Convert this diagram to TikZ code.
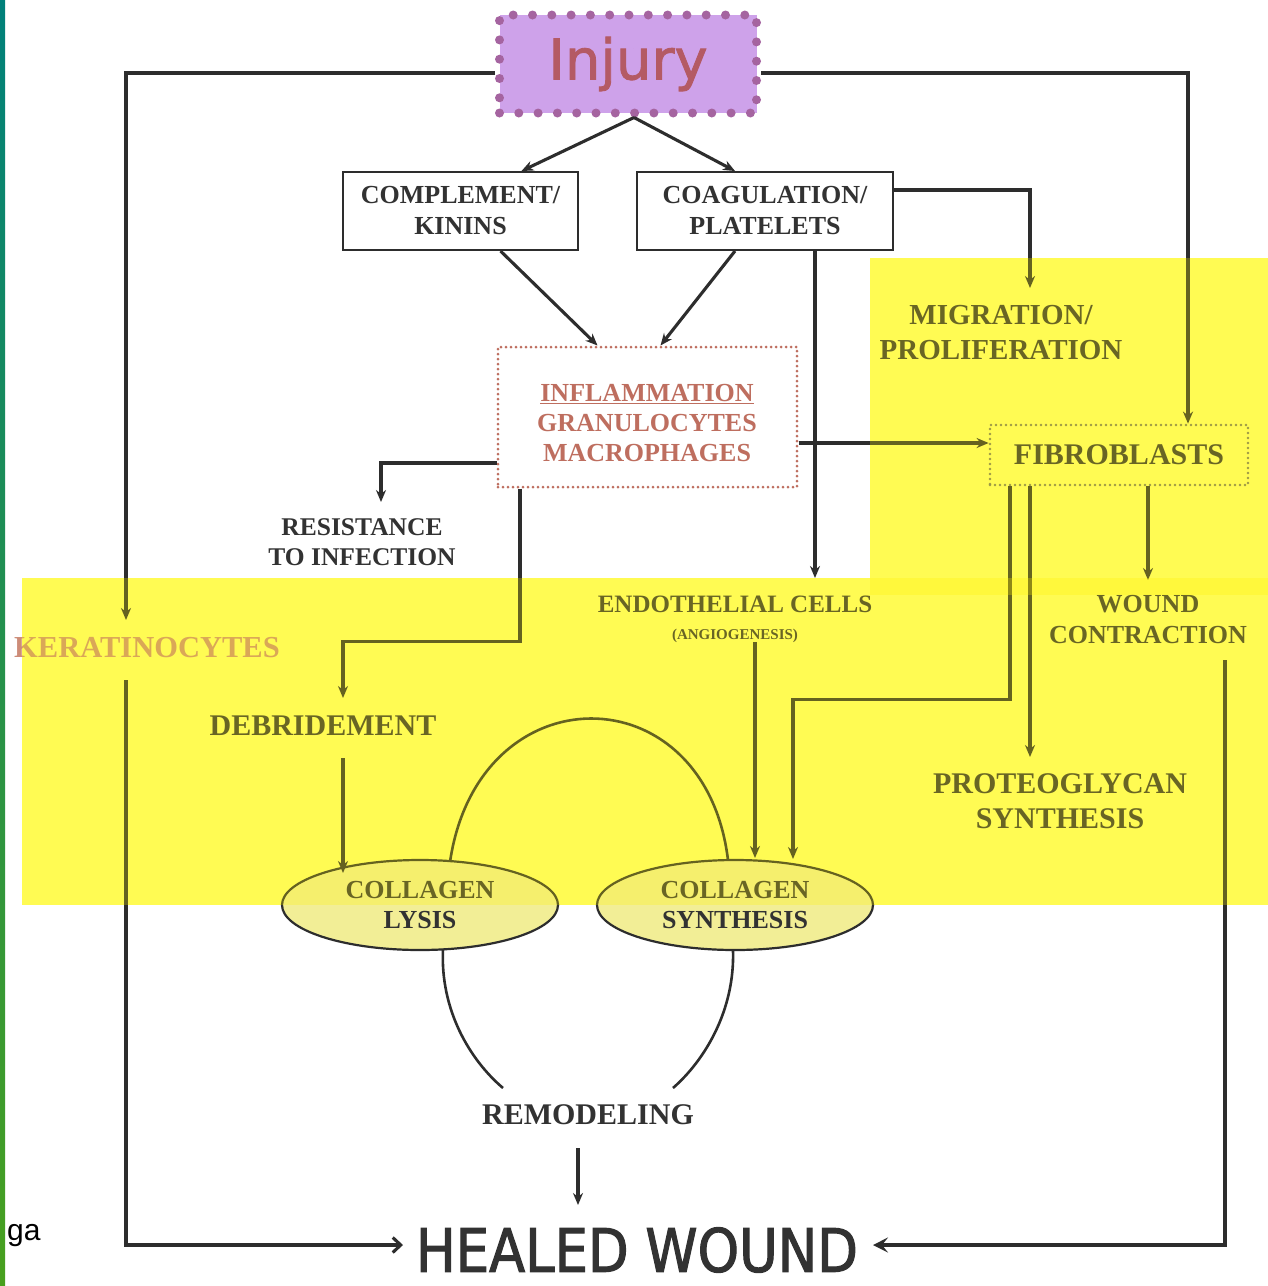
\documentclass[tikz,border=0pt]{standalone}
\usepackage{fontspec}
\setmainfont{Liberation Serif}
\newfontfamily\handfont{DejaVu Sans}[FakeBold=1.5]
\newfontfamily\handfontc{DejaVu Sans}[FakeStretch=0.88,FakeBold=1.8]
\newfontfamily\gafont{Liberation Sans}
\usetikzlibrary{arrows.meta,calc,shapes.geometric}
\definecolor{linecol}{RGB}{45,45,45}
\definecolor{txtcol}{RGB}{50,50,50}
\definecolor{inflcol}{RGB}{190,110,95}
\definecolor{injfill}{RGB}{206,162,234}
\definecolor{injdot}{RGB}{165,100,160}
\definecolor{injtext}{RGB}{180,90,100}
\definecolor{keracol}{RGB}{205,140,120}
\definecolor{ellfill}{RGB}{242,238,150}
\definecolor{ybase}{RGB}{255,255,115}
\definecolor{fibdot}{RGB}{120,120,95}
\definecolor{barTop}{RGB}{0,128,122}
\definecolor{barBot}{RGB}{72,160,30}
\begin{document}
\begin{tikzpicture}[x=1pt,y=-1pt,
  lbl/.style={font=\fontsize{26}{31}\selectfont\bfseries, text=txtcol, align=center, inner sep=0pt},
  lblbig/.style={font=\fontsize{29}{35}\selectfont\bfseries, text=txtcol, align=center, inner sep=0pt},
  plainbox/.style={draw=linecol, line width=2pt, fill=white, minimum width=#1, minimum height=78pt, inner sep=0pt, align=center, font=\fontsize{26}{31}\selectfont\bfseries, text=txtcol},
  conn/.style={draw=linecol, line width=3.1pt},
  arr/.style={conn, -{Stealth[length=12pt,width=10pt]}},
  ell/.style={ellipse, draw=linecol, line width=2.2pt, fill=ellfill, minimum width=276pt, minimum height=90pt, inner sep=0pt, align=center, font=\fontsize{26}{30}\selectfont\bfseries, text=txtcol},
  hl/.style={fill=yellow, opacity=0.27}
]
\useasboundingbox (0,0) rectangle (1268,1286);
\fill[white] (0,0) rectangle (1268,1286);
% yellow highlight base
\fill[ybase] (870,258) rectangle (1268,595);
\fill[ybase] (22,578) rectangle (1268,905);

% nodes
\node[rectangle, fill=injfill, draw=injdot, line width=9pt, line cap=round, dash pattern=on 0pt off 19.3pt, minimum width=257pt, minimum height=98pt, inner sep=0pt] (injury) at (628,64) {};
\node[font=\handfont\fontsize{56}{60}\selectfont, text=injtext, inner sep=0pt] (injtxt) at (628,64) {Injury};

\node[plainbox=235pt] (comp) at (460.5,211) {COMPLEMENT/\\KININS};
\node[plainbox=256pt] (coag) at (765,211) {COAGULATION/\\PLATELETS};

\node[rectangle, draw=inflcol, fill=white, line width=3pt, line cap=round, dash pattern=on 0pt off 5pt, minimum width=299pt, minimum height=140pt, inner sep=0pt] (infl) at (647.5,417) {};
\node[lbl, text=inflcol, font=\fontsize{26}{30}\selectfont\bfseries] (infltxt) at (647,423) {\underline{INFLAMMATION}\\GRANULOCYTES\\MACROPHAGES};

\node[lblbig] (migr) at (1001,333) {MIGRATION/\\PROLIFERATION};
\node[rectangle, draw=fibdot, line width=2.8pt, line cap=round, dash pattern=on 0pt off 5pt, minimum width=258pt, minimum height=60pt, inner sep=0pt, font=\fontsize{30}{34}\selectfont\bfseries, text=txtcol] (fib) at (1119,455) {FIBROBLASTS};

\node[lbl, font=\fontsize{25.5}{30}\selectfont\bfseries] (resist) at (362,542) {RESISTANCE\\TO INFECTION};
\node[lbl, font=\fontsize{30.5}{34}\selectfont\bfseries, text=keracol] (kera) at (147,648) {KERATINOCYTES};
\node[lbl, font=\fontsize{30}{34}\selectfont\bfseries] (debr) at (323,726) {DEBRIDEMENT};
\node[lbl] (endo) at (735,619) {{\fontsize{25}{28}\selectfont ENDOTHELIAL CELLS}\\[-4pt]{\fontsize{15}{18}\selectfont (ANGIOGENESIS)}};
\node[lbl] (wound) at (1148,620) {WOUND\\CONTRACTION};
\node[lbl, font=\fontsize{30}{35}\selectfont\bfseries] (proteo) at (1060,801) {PROTEOGLYCAN\\SYNTHESIS};

\node[ell] (lysis) at (420,905) {COLLAGEN\\LYSIS};
\node[ell] (synth) at (735,905) {COLLAGEN\\SYNTHESIS};

\node[lbl, font=\fontsize{30}{34}\selectfont\bfseries] (remod) at (588,1115) {REMODELING};
\node[font=\handfontc\fontsize{60}{64}\selectfont, text=txtcol, inner sep=0pt] (healed) at (637,1250) {HEALED WOUND};

% connectors
\draw[arr] ($(injury.west)+(0,9)$) -| ($(kera.center)+(-21,-28)$);
\draw[arr] ($(injury.east)+(0,9)$) -| ($(fib.north)+(69,0)$);
\draw[arr] ($(injury.south)+(6,0)$) -- ($(comp.north)+(61,0)$);
\draw[arr] ($(injury.south)+(6,0)$) -- ($(coag.north)+(-30,0)$);
\draw[arr] ($(comp.south)+(40,0)$) -- ($(infl.north)+(-50,0)$);
\draw[arr] ($(coag.south)+(-30,0)$) -- ($(infl.north)+(13,0)$);
\draw[arr] ($(coag.east)+(0,-21)$) -| ($(migr.center)+(29,-45)$);
\draw[arr] ($(coag.south)+(50,0)$) -- ($(endo.center)+(80,-41)$);
\draw[arr] ($(infl.east)+(0,26)$) -- ($(fib.west)+(0,-12)$);
\draw[arr] ($(infl.west)+(0,46)$) -| ($(resist.center)+(19,-40)$);
\draw[arr] ($(infl.south)+(-127.5,0)$) -- ++(0,153) -| ($(debr.center)+(20,-28)$);
\draw[arr] ($(debr.center)+(20,32)$) -- ($(lysis.center)+(-77,-32)$);
\draw[conn, -{Straight Barb[length=8pt,width=15pt]}] ($(kera.center)+(-21,32)$) |- ($(healed.center)+(-234,-5)$);
\draw[arr] ($(endo.center)+(20,23)$) -- ($(synth.center)+(20,-47)$);
\draw[arr] ($(fib.south)+(-109,0)$) -- ++(0,213) -| ($(synth.center)+(58,-46)$);
\draw[arr] ($(fib.south)+(-89,0)$) -- ($(proteo.center)+(-30,-44)$);
\draw[arr] ($(fib.south)+(29,0)$) -- ($(wound.center)+(0,-40)$);
\draw[conn, -{Stealth[length=15pt,width=15pt,inset=6pt]}] ($(wound.center)+(77,40)$) |- ($(healed.center)+(236,-5)$);
\draw[arr] ($(remod.center)+(-10,33)$) -- ($(healed.center)+(-59,-45)$);
% collagen cycle
\draw[conn, line width=2.6pt] ($(lysis.center)+(30,-43)$) .. controls ($(lysis.center)+(58,-234)$) and ($(synth.center)+(-30,-234)$) .. ($(synth.center)+(-7,-45)$);
\draw[conn, line width=2.6pt] ($(lysis.center)+(23,44)$) .. controls ($(lysis.center)+(20,105)$) and ($(lysis.center)+(50,155)$) .. ($(remod.center)+(-85,-27)$);
\draw[conn, line width=2.6pt] ($(synth.center)+(-2,45)$) .. controls ($(synth.center)+(0,105)$) and ($(synth.center)+(-30,155)$) .. ($(remod.center)+(85,-27)$);

% yellow tint overlay
\fill[hl] (870,258) rectangle (1268,595);
\fill[hl] (22,578) rectangle (1268,905);

% side text and bar
\node[font=\gafont\fontsize{30}{34}\selectfont, text=black, anchor=base west, inner sep=0pt] (ga) at (7,1240) {ga};
\shade[top color=barTop, bottom color=barBot] (0,0) rectangle (5,1286);
\end{tikzpicture}
\end{document}
